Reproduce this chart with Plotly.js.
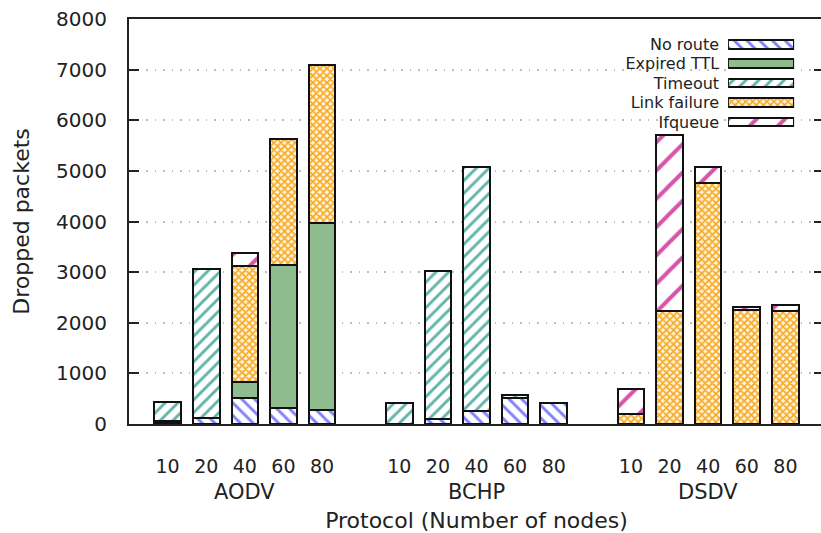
<!DOCTYPE html>
<html>
<head>
<meta charset="utf-8">
<script src="https://cdn.plot.ly/plotly-3.0.1.min.js"></script>
<style>
html,body{margin:0;padding:0;overflow:hidden;background:#fff;}
#chart{width:830px;height:533px;}
</style>
</head>
<body>
<div id="chart"></div>
<script>
// ---- data ----
const protocols = ["AODV", "BCHP", "DSDV"];
const nodeCounts = ["10", "20", "40", "60", "80"];
const seriesNames = ["No route", "Expired TTL", "Timeout", "Link failure", "Ifqueue"];

// values per protocol, in node order 10,20,40,60,80
const noRoute = {
  AODV: [20, 125, 520, 310, 283],
  BCHP: [0, 105, 257, 508, 415],
  DSDV: [0, 0, 0, 0, 0]
};
const expiredTTL = {
  AODV: [30, 0, 316, 2826, 3683],
  BCHP: [0, 0, 0, 0, 0],
  DSDV: [0, 0, 0, 0, 0]
};
const timeout = {
  AODV: [390, 2930, 0, 0, 0],
  BCHP: [409, 2913, 4828, 65, 0],
  DSDV: [0, 0, 0, 0, 0]
};
const linkFailure = {
  AODV: [0, 0, 2287, 2490, 3129],
  BCHP: [0, 0, 0, 0, 0],
  DSDV: [204, 2227, 4769, 2253, 2227]
};
const ifqueue = {
  AODV: [0, 0, 262, 0, 0],
  BCHP: [0, 0, 0, 0, 0],
  DSDV: [494, 3484, 304, 50, 125]
};

const yTicks = [0, 1000, 2000, 3000, 4000, 5000, 6000, 7000, 8000];

// ---- styles ----
const styles = {
  "No route":     {color: "#ffffff", pattern: {shape: "\\", fgcolor: "#7f7fff", bgcolor: "#ffffff", size: 9, solidity: 0.32}},
  "Expired TTL":  {color: "#8fbc8f"},
  "Timeout":      {color: "#ffffff", pattern: {shape: "/", fgcolor: "#5fb3aa", bgcolor: "#ffffff", size: 9, solidity: 0.32}},
  "Link failure": {color: "#ffffff", pattern: {shape: "x", fgcolor: "#f7a81e", bgcolor: "#fff3dc", size: 5, solidity: 0.55}},
  "Ifqueue":      {color: "#ffffff", pattern: {shape: "/", fgcolor: "#d555a8", bgcolor: "#ffffff", size: 20, solidity: 0.2}}
};
const seriesData = {
  "No route": noRoute, "Expired TTL": expiredTTL, "Timeout": timeout,
  "Link failure": linkFailure, "Ifqueue": ifqueue
};

// positions: groups separated by a gap of one slot
const xPos = [], xText = [];
protocols.forEach((p, gi) => {
  nodeCounts.forEach((n, i) => { xPos.push(gi * 6 + i); xText.push(n); });
});

const traces = [];
seriesNames.forEach(name => {
  const vals = [];
  protocols.forEach(p => vals.push(...seriesData[name][p]));
  const st = styles[name];
  const marker = {color: st.color, line: {color: "#111", width: 2}};
  if (st.pattern) marker.pattern = st.pattern;
  traces.push({
    type: "bar", x: xPos, y: vals, name: name, width: 0.69,
    marker: marker, showlegend: false, hoverinfo: "x+y+name",
    xaxis: "x", yaxis: "y"
  });
});

// legend drawn as a small horizontal-bar panel (swatches) with category tick labels
seriesNames.forEach(name => {
  const st = styles[name];
  const marker = {color: st.color, line: {color: "#111", width: 2}};
  if (st.pattern) marker.pattern = Object.assign({}, st.pattern);
  traces.push({
    type: "bar", orientation: "h", y: [name], x: [1], base: [0], width: 0.45,
    marker: marker, showlegend: false, hoverinfo: "skip",
    xaxis: "x2", yaxis: "y2"
  });
});

const font = {family: "DejaVu Sans, sans-serif", color: "#222"};
const f = s => Object.assign({size: s}, font);

const annotations = protocols.map((p, gi) => ({
  x: gi * 6 + 2, xref: "x", y: -0.168, yref: "paper",
  text: p, showarrow: false, xanchor: "center", yanchor: "middle",
  font: f(21)
}));

const layout = {
  width: 830, height: 533,
  margin: {l: 129, r: 6, t: 19, b: 109},
  paper_bgcolor: "#fff", plot_bgcolor: "#fff",
  font: f(18),
  barmode: "stack",
  showlegend: false,
  xaxis: {
    range: [-1, 17], tickvals: xPos, ticktext: xText,
    showline: true, mirror: true, linecolor: "#222", linewidth: 2,
    ticks: "", showgrid: false, zeroline: false, fixedrange: true,
    ticklabelstandoff: 24,
    tickfont: f(19),
    title: {text: "Protocol (Number of nodes)", font: f(22), standoff: 50},
    automargin: false
  },
  yaxis: {
    range: [0, 8000], tickvals: yTicks,
    showline: true, mirror: "ticks", linecolor: "#222", linewidth: 2,
    ticks: "inside", ticklen: 10, tickwidth: 2, tickcolor: "#222",
    showgrid: true, gridcolor: "#bdbdbd", griddash: "1.5px,7px", gridwidth: 2,
    zeroline: false, fixedrange: true,
    ticklabelstandoff: 16,
    tickfont: f(20),
    title: {text: "Dropped packets", font: f(22), standoff: 20},
    automargin: false
  },
  xaxis2: {
    domain: [0.862, 0.957], range: [0, 1], anchor: "y2",
    showgrid: false, zeroline: false, showticklabels: false, showline: false, fixedrange: true
  },
  yaxis2: {
    domain: [0.7216, 0.962], anchor: "x2", type: "category",
    categoryorder: "array", categoryarray: seriesNames.slice().reverse(),
    range: [-0.5, 4.5],
    showgrid: false, zeroline: false, showline: false, ticks: "", fixedrange: true,
    ticklabelstandoff: 8,
    tickfont: f(16)
  },
  shapes: [{
    type: "rect", xref: "paper", yref: "paper", layer: "between",
    x0: 0.675, x1: 0.97, y0: 0.72, y1: 0.965,
    fillcolor: "#fff", line: {width: 0}
  }],
  annotations: annotations
};

Plotly.newPlot("chart", traces, layout, {displayModeBar: false, staticPlot: true});
</script>
</body>
</html>
